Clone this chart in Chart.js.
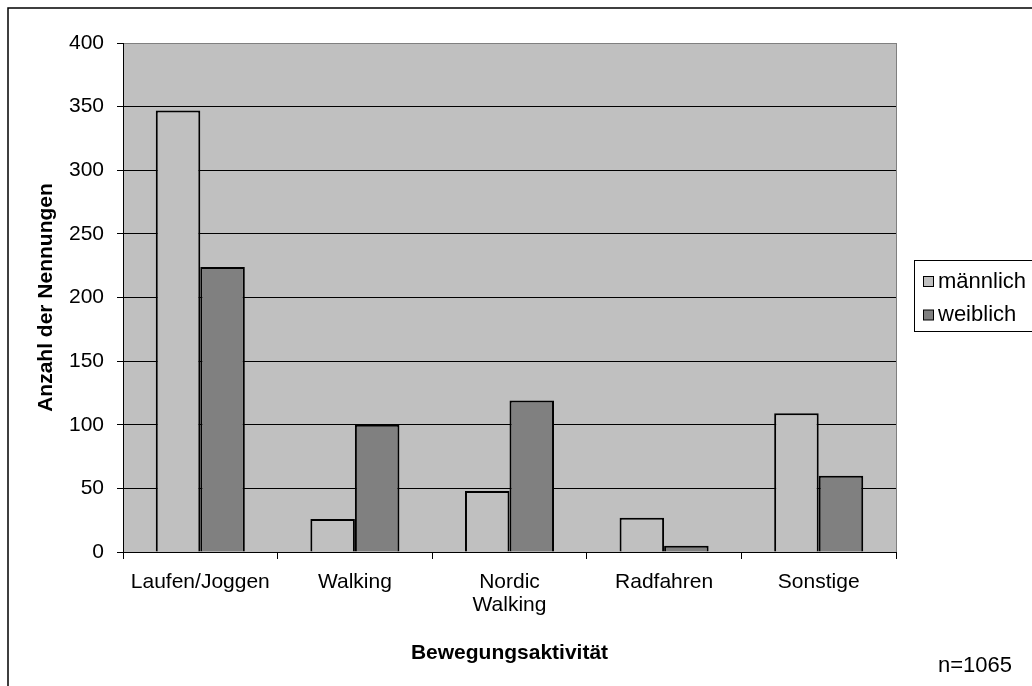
<!DOCTYPE html>
<html lang="de">
<head>
<meta charset="utf-8">
<title>Bewegungsaktivität nach Geschlecht</title>
<script src="https://cdn.jsdelivr.net/npm/chart.js@4"></script>
<style>
  html, body { margin: 0; padding: 0; background: #fff; }
  canvas { display: block; }
</style>
</head>
<body>
<canvas id="activityChart" width="1032" height="686"></canvas>
<script>
// Nennungen je Bewegungsaktivität, getrennt nach Geschlecht
const categories = ['Laufen/Joggen', 'Walking', ['Nordic', 'Walking'], 'Radfahren', 'Sonstige'];
const maleCounts = [347, 26, 48, 27, 109];
const femaleCounts = [224, 100, 119, 5, 60];
const yTicks = [0, 50, 100, 150, 200, 250, 300, 350, 400];
const sampleSize = 1065;

const FONT = '"Liberation Sans", Arial, sans-serif';
Chart.defaults.font.family = FONT;
Chart.defaults.color = '#000';

// grey plot area with a thin grey frame on the right
const plotBackground = {
  id: 'plotBackground',
  beforeDraw(chart) {
    const { ctx, chartArea: a } = chart;
    ctx.save();
    ctx.fillStyle = '#c0c0c0';
    ctx.fillRect(a.left, a.top, a.right - a.left, a.bottom - a.top);
    ctx.strokeStyle = '#808080';
    ctx.lineWidth = 1;
    ctx.beginPath();
    ctx.moveTo(Math.round(a.right) + 0.5, a.top);
    ctx.lineTo(Math.round(a.right) + 0.5, a.bottom);
    ctx.stroke();
    ctx.restore();
  }
};

// outer frame, legend box and sample size note
const decorations = {
  id: 'decorations',
  afterDraw(chart) {
    const { ctx } = chart;
    ctx.save();

    ctx.strokeStyle = '#000';
    ctx.lineWidth = 1.5;
    ctx.beginPath();
    ctx.moveTo(8, 686);
    ctx.lineTo(8, 8);
    ctx.lineTo(1032, 8);
    ctx.stroke();

    // legend
    ctx.fillStyle = '#fff';
    ctx.fillRect(914.5, 260.5, 130, 71);
    ctx.lineWidth = 1;
    ctx.strokeStyle = '#000';
    ctx.strokeRect(914.5, 260.5, 130, 71);
    ctx.font = '22px ' + FONT;
    ctx.textBaseline = 'middle';
    ctx.textAlign = 'left';
    chart.data.datasets.forEach((ds, i) => {
      const y = 276.5 + i * 33.5;
      ctx.fillStyle = ds.backgroundColor;
      ctx.fillRect(923.5, y, 10, 10);
      ctx.strokeStyle = '#000';
      ctx.strokeRect(923.5, y, 10, 10);
      ctx.fillStyle = '#000';
      ctx.fillText(ds.label, 938, y + 5);
    });

    ctx.textAlign = 'center';
    ctx.fillText('n=' + sampleSize, 975, 666);
    ctx.restore();
  }
};

new Chart(document.getElementById('activityChart'), {
  type: 'bar',
  data: {
    labels: categories,
    datasets: [
      {
        label: 'männlich',
        data: maleCounts,
        backgroundColor: '#c0c0c0',
        borderColor: '#000',
        borderWidth: 2,
      },
      {
        label: 'weiblich',
        data: femaleCounts,
        backgroundColor: '#808080',
        borderColor: '#000',
        borderWidth: 2,
      },
    ],
  },
  options: {
    responsive: false,
    animation: false,
    events: [],
    layout: { padding: { left: 0, top: 43, right: 136, bottom: 0 } },
    datasets: { bar: { categoryPercentage: 0.576, barPercentage: 1 } },
    plugins: {
      legend: { display: false },
      tooltip: { enabled: false },
    },
    scales: {
      x: {
        afterFit: scale => { scale.height = 134; },
        grid: {
          drawOnChartArea: false,
          drawTicks: true,
          tickLength: 7,
          tickColor: '#000',
          offset: true,
        },
        border: { color: '#000', width: 1 },
        ticks: {
          maxRotation: 0,
          autoSkip: false,
          padding: 12,
          font: { size: 21, lineHeight: 1.1 },
        },
        title: {
          display: true,
          text: 'Bewegungsaktivität',
          font: { size: 21, weight: 'bold' },
          padding: { top: 0, bottom: 20 },
        },
      },
      y: {
        min: 0,
        max: 400,
        afterFit: scale => { scale.width = 123; },
        afterBuildTicks: scale => { scale.ticks = yTicks.map(v => ({ value: v })); },
        grid: {
          color: ctx => (ctx.tick && ctx.tick.value === 400 ? '#808080' : '#000'),
          tickColor: '#000',
          tickLength: 6,
          lineWidth: 1,
        },
        border: { color: '#000', width: 1 },
        ticks: {
          padding: 13,
          font: { size: 21 },
        },
        title: {
          display: true,
          text: 'Anzahl der Nennungen',
          font: { size: 21, weight: 'bold' },
          padding: { top: 34, bottom: 0 },
        },
      },
    },
  },
  plugins: [plotBackground, decorations],
});
</script>
</body>
</html>
